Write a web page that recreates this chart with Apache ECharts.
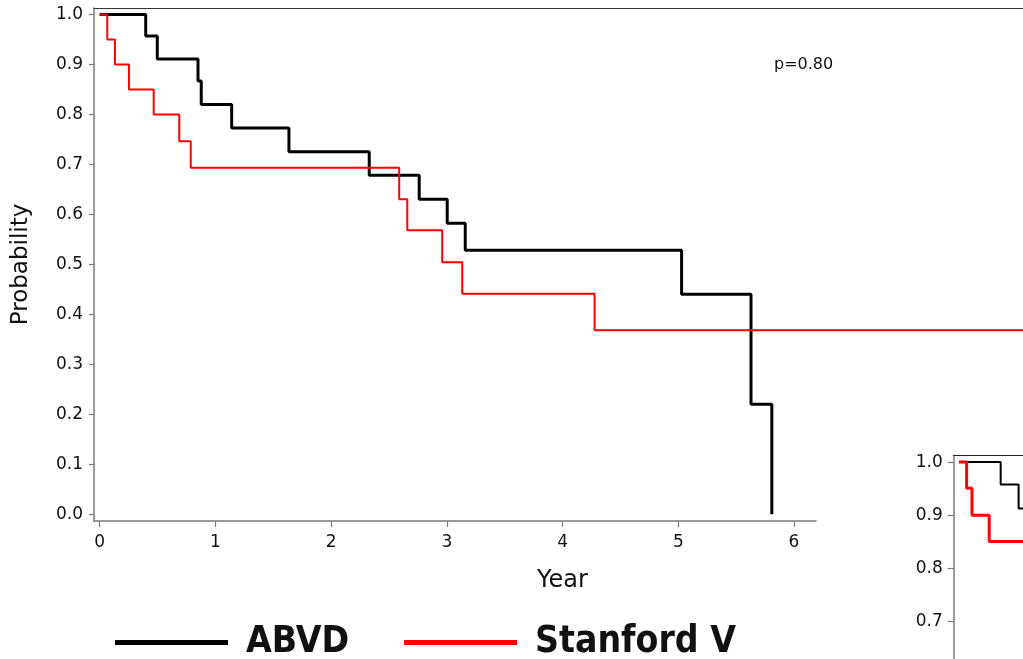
<!DOCTYPE html>
<html>
<head>
<meta charset="utf-8">
<title>ABVD vs Stanford V</title>
<script src="https://cdn.jsdelivr.net/npm/echarts@6/dist/echarts.min.js"></script>
<style>
  html, body { margin: 0; padding: 0; background: #fff; }
  #chart { width: 1023px; height: 659px; }
</style>
</head>
<body>
<div id="chart"></div>
<script>
// Kaplan-Meier steps (time in years, survival probability)
const abvdTime = [0, 0.398, 0.498, 0.850, 0.878, 1.141, 1.636, 2.330, 2.762, 3.004, 3.160, 5.030, 5.630, 5.810];
const abvdSurv = [1.0, 0.957, 0.911, 0.867, 0.820, 0.773, 0.725, 0.678, 0.630, 0.582, 0.528, 0.440, 0.220, 0.0];

const stanTime = [0, 0.066, 0.132, 0.253, 0.467, 0.688, 0.787, 2.589, 2.659, 2.961, 3.134, 4.278, 8.0];
const stanSurv = [1.0, 0.950, 0.900, 0.850, 0.800, 0.746, 0.693, 0.630, 0.568, 0.504, 0.441, 0.368, 0.368];

// the small second plot in the corner only shows its first steps
const insetAbvdTime = [0, 0.342, 0.489, 0.62];
const insetAbvdSurv = [1.0, 0.958, 0.913, 0.913];
const insetStanTime = [0, 0.063, 0.107, 0.248, 0.62];
const insetStanSurv = [1.0, 0.951, 0.900, 0.851, 0.851];

const yearTicks = [0, 1, 2, 3, 4, 5, 6];
const probTicks = [0, 0.1, 0.2, 0.3, 0.4, 0.5, 0.6, 0.7, 0.8, 0.9, 1.0];

const seriesNames = ["ABVD", "Stanford V"];
const pValueText = "p=0.80";

function pairs(xs, ys) {
  return xs.map((x, i) => [x, ys[i]]);
}

const chart = echarts.init(document.getElementById("chart"));

const axisGray = "#7a7a7a";
const textFont = "DejaVu Sans";

let option = {
  animation: false,
  backgroundColor: "#fff",
  title: [
    {
      text: pValueText,
      left: 774,
      top: 57,
      padding: 0,
      textStyle: { fontFamily: textFont, fontSize: 16, fontWeight: "normal", color: "#111" },
    },
    {
      text: "Year",
      left: 537,
      top: 569,
      padding: 0,
      textStyle: { fontFamily: textFont, fontSize: 24, fontWeight: "normal", color: "#111" },
    },
  ],
  legend: {
    data: seriesNames,
    left: 115,
    top: 624,
    padding: 0,
    icon: "rect",
    itemWidth: 113,
    itemHeight: 5,
    itemGap: 55,
    textStyle: {
      fontFamily: "DejaVu Sans Condensed, sans-serif",
      fontWeight: "bold",
      fontSize: 37,
      color: "#111",
      padding: [0, 0, 0, 13],
    },
  },
  grid: [
    // main axes
    { left: 94, top: 8, width: 722, height: 513, outerBoundsMode: "none" },
    // main curves, runs on to the right edge (top frame line too)
    { left: 94, top: 8, width: 929, height: 513, outerBoundsMode: "none" },
    // inset, mostly off the page
    { left: 953.7, top: 455.3, width: 760, height: 546, outerBoundsMode: "none" },
  ],
  xAxis: [
    {
      gridIndex: 0,
      type: "value",
      min: -0.049,
      max: 6.19,
      splitLine: { show: false },
      axisLine: { onZero: false, lineStyle: { color: axisGray, width: 1.5 } },
      axisTick: { customValues: yearTicks, length: 6, lineStyle: { color: axisGray, width: 1.2 } },
      axisLabel: {
        customValues: yearTicks,
        margin: 13,
        fontFamily: textFont,
        fontSize: 17,
        color: "#111",
      },
    },
    {
      gridIndex: 1,
      type: "value",
      position: "top",
      min: -0.049,
      max: 7.981,
      splitLine: { show: false },
      axisLine: { onZero: false, lineStyle: { color: "#333", width: 1.2 } },
      axisTick: { show: false },
      axisLabel: { show: false },
    },
    {
      gridIndex: 2,
      type: "value",
      position: "top",
      min: -0.043,
      max: 6.187,
      splitLine: { show: false },
      axisLine: { onZero: false, lineStyle: { color: "#222", width: 1.2 } },
      axisTick: { show: false },
      axisLabel: { show: false },
    },
  ],
  yAxis: [
    {
      gridIndex: 0,
      type: "value",
      min: -0.0134,
      max: 1.0128,
      name: "Probability",
      nameLocation: "middle",
      nameGap: 61,
      nameTextStyle: { fontFamily: textFont, fontSize: 23, color: "#111" },
      splitLine: { show: false },
      axisLine: { show: true, onZero: false, lineStyle: { color: axisGray, width: 1.5 } },
      axisTick: { show: true, customValues: probTicks, length: 5, lineStyle: { color: axisGray, width: 1.2 } },
      axisLabel: {
        customValues: probTicks,
        margin: 11,
        fontFamily: textFont,
        fontSize: 17,
        color: "#111",
        formatter: (v) => v.toFixed(1),
      },
    },
    {
      gridIndex: 1,
      type: "value",
      min: -0.0134,
      max: 1.0128,
      show: false,
    },
    {
      gridIndex: 2,
      type: "value",
      min: -0.0134,
      max: 1.0128,
      splitLine: { show: false },
      axisLine: { show: true, onZero: false, lineStyle: { color: axisGray, width: 1.5 } },
      axisTick: { show: true, customValues: probTicks, length: 6, lineStyle: { color: axisGray, width: 1.2 } },
      axisLabel: {
        customValues: probTicks,
        margin: 11,
        fontFamily: textFont,
        fontSize: 17,
        color: "#111",
        formatter: (v) => v.toFixed(1),
      },
    },
  ],
  series: [
    {
      name: "ABVD",
      type: "line",
      step: "end",
      xAxisIndex: 1,
      yAxisIndex: 1,
      showSymbol: false,
      color: "#000",
      lineStyle: { color: "#000", width: 3 },
      data: pairs(abvdTime, abvdSurv),
    },
    {
      name: "Stanford V",
      type: "line",
      step: "end",
      xAxisIndex: 1,
      yAxisIndex: 1,
      showSymbol: false,
      color: "#ff0000",
      lineStyle: { color: "#ff0000", width: 2 },
      data: pairs(stanTime, stanSurv),
    },
    {
      name: "ABVD",
      type: "line",
      step: "end",
      xAxisIndex: 2,
      yAxisIndex: 2,
      showSymbol: false,
      color: "#000",
      lineStyle: { color: "#000", width: 2 },
      data: pairs(insetAbvdTime, insetAbvdSurv),
    },
    {
      name: "Stanford V",
      type: "line",
      step: "end",
      xAxisIndex: 2,
      yAxisIndex: 2,
      showSymbol: false,
      color: "#ff0000",
      lineStyle: { color: "#ff0000", width: 3 },
      data: pairs(insetStanTime, insetStanSurv),
    },
  ],
};

chart.setOption(option, true);
</script>
</body>
</html>
